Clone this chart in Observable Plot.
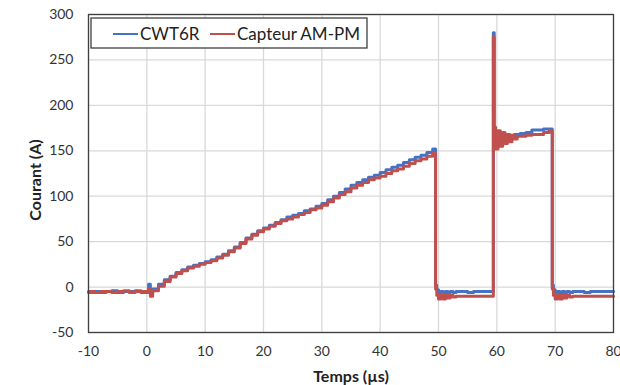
<!DOCTYPE html>
<html><head><meta charset="utf-8">
<script src="https://cdn.jsdelivr.net/npm/d3@7"></script>
<script src="https://cdn.jsdelivr.net/npm/@observablehq/plot@0.6"></script>
<style>body{margin:0;background:#fff;}</style>
</head><body><div id="chart"></div>
<script>
const temps = [-10,-9,-8,-7,-6,-5,-4,-3,-2,-1,0,
  0.3,0.6,1,2,3,4,5,6,7,8,9,10,11,12,13,14,15,16,17,18,19,20,21,22,23,24,25,26,27,28,29,30,31,32,33,34,35,36,37,38,39,40,41,42,43,44,45,46,47,48,49,
  49.5,49.7,50,50.4,50.8,51.2,51.6,52,52.5,53,54,55,56,57,58,59,
  59.4,59.55,59.8,60.2,60.6,61,61.4,61.8,62.2,62.6,63,63.5,64,65,66,67,68,69,
  69.5,69.7,70,70.4,70.8,71.2,71.6,72,72.5,73,74,75,76,77,78,79,80];
const cwt6r = [-6,-5,-6,-5,-4,-6,-5,-5,-4,-6,-5,
  3,-7,-2,3,8,12,16,19,22,24,26,28,30,33,36,40,44,49,54,58,62,65,68,71,74,77,79,81,84,86,89,92,96,100,104,108,112,115,118,121,123,126,129,132,134,137,140,143,145,148,152,
  2,-3,-6,-5,-7,-5,-6,-5,-6,-5,-5,-6,-5,-5,-5,-5,
  280,158,170,160,167,162,166,164,167,166,168,168,169,170,173,173,174,174,
  2,-3,-6,-5,-7,-5,-6,-5,-6,-5,-5,-6,-5,-5,-5,-5,-5];
const capteur = [-5,-6,-5,-5,-6,-5,-4,-6,-5,-5,-6,
  -2,-10,-4,1,6,11,15,18,21,23,25,27,29,32,35,39,43,48,53,57,61,64,67,70,73,75,77,80,82,85,87,90,94,98,102,105,109,112,115,118,120,122,125,128,130,133,136,139,141,144,147,
  -2,-9,-13,-8,-13,-9,-12,-9,-11,-10,-10,-10,-10,-10,-10,-10,
  275,176,152,172,155,170,158,168,160,167,163,166,166,167,168,168,170,172,
  -2,-9,-13,-8,-13,-9,-12,-9,-11,-10,-10,-10,-10,-10,-10,-10,-10];
const xTicks = [-10,0,10,20,30,40,50,60,70,80];
const yTicks = [-50,0,50,100,150,200,250,300];
const seriesNames = ["CWT6R", "Capteur AM-PM"];
const seriesColors = ["#4472C4", "#C0504D"];

const blue = temps.map((t, i) => ({t, v: cwt6r[i]}));
const red = temps.map((t, i) => ({t, v: capteur[i]}));

const plot = Plot.plot({
  width: 620, height: 385,
  marginLeft: 88, marginRight: 7, marginTop: 14, marginBottom: 53,
  style: {fontFamily: "Lato, sans-serif", fontSize: "14px", color: "#404040", background: "#fff", overflow: "visible"},
  x: {domain: [-10, 80]},
  y: {domain: [-50, 300]},
  marks: [
    Plot.gridX(xTicks, {stroke: "#d9d9d9", strokeOpacity: 1, strokeWidth: 1.3}),
    Plot.gridY(yTicks, {stroke: "#d9d9d9", strokeOpacity: 1, strokeWidth: 1.3}),
    Plot.line(blue, {x: "t", y: "v", stroke: seriesColors[0], strokeWidth: 3, curve: "step-after"}),
    Plot.line(red, {x: "t", y: "v", stroke: seriesColors[1], strokeWidth: 3, curve: "step-after"}),
    Plot.frame({stroke: "#404040", strokeWidth: 1.3}),
    Plot.axisX(xTicks, {tickSize: 0, tickPadding: 14, label: null, fontSize: 14, fill: "#333", tickFormat: d => String(d)}),
    Plot.axisY(yTicks, {tickSize: 0, tickPadding: 15, label: null, fontSize: 14, fill: "#333", tickFormat: d => String(d)})
  ]
});

const svg = d3.select(plot);
function txt(sel) {
  return sel.style("font-family", "Lato, sans-serif").style("fill", "#222");
}
txt(svg.append("text")).attr("x", 351).attr("y", 382).style("text-anchor", "middle")
  .style("font-size", "16px").style("font-weight", "bold").text("Temps (µs)");
txt(svg.append("text")).attr("transform", "translate(41,180) rotate(-90)").style("text-anchor", "middle")
  .style("font-size", "16px").style("font-weight", "bold").text("Courant (A)");

const lg = svg.append("g");
lg.append("rect").attr("x", 91).attr("y", 18).attr("width", 276).attr("height", 30)
  .attr("fill", "#fff").attr("stroke", "#404040").attr("stroke-width", 1.3);
const lx = [113, 210];
seriesNames.forEach((name, i) => {
  lg.append("line").attr("x1", lx[i]).attr("x2", lx[i] + 25).attr("y1", 34).attr("y2", 34)
    .attr("stroke", seriesColors[i]).attr("stroke-width", 2);
  txt(lg.append("text")).attr("x", lx[i] + 27).attr("y", 34).attr("dy", "0.35em")
    .style("text-anchor", "start").style("font-size", "17px").text(name);
});

document.getElementById("chart").appendChild(plot);
</script>
</body></html>
